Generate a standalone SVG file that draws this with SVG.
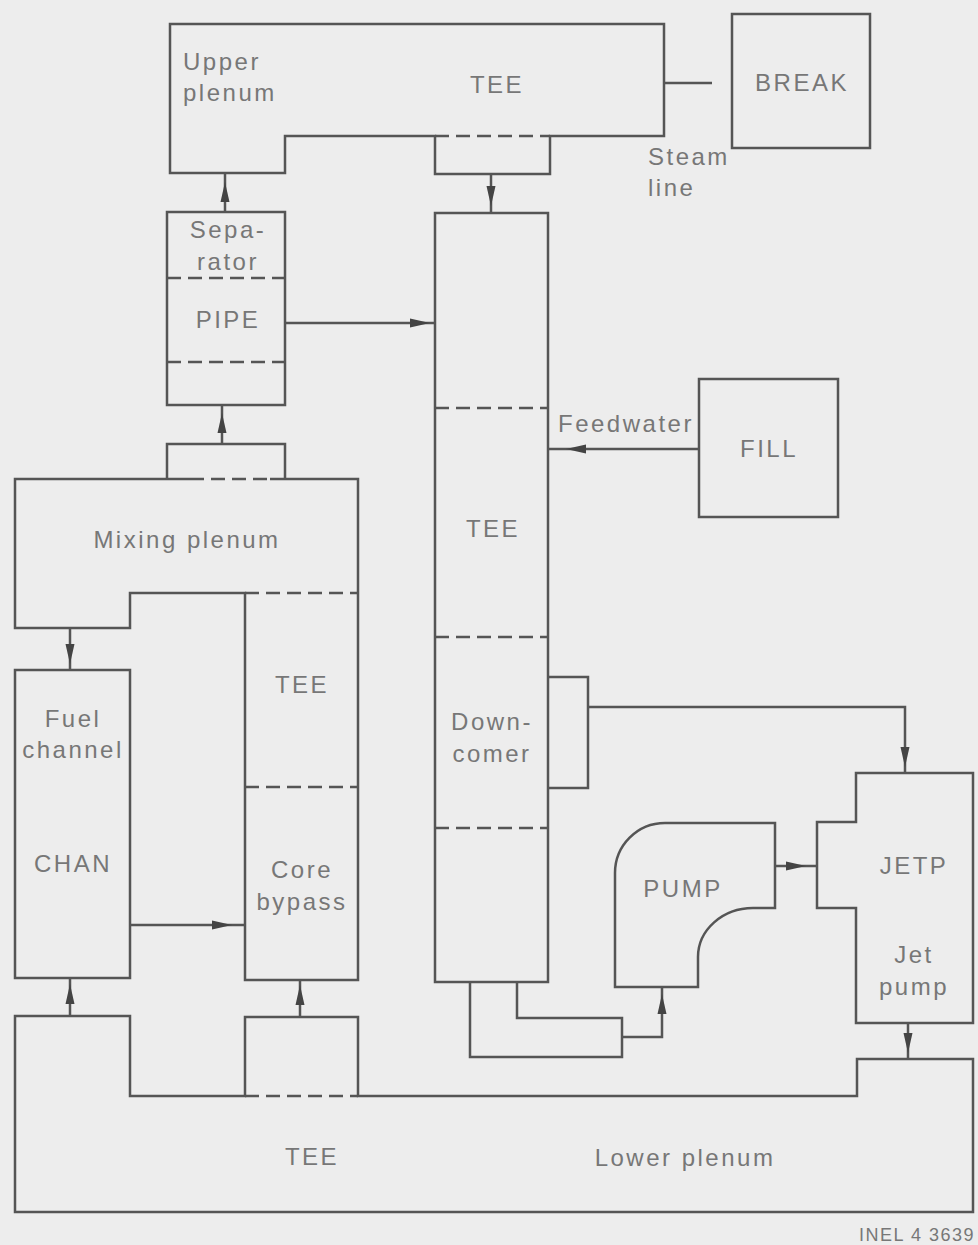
<svg xmlns="http://www.w3.org/2000/svg" width="978" height="1245" viewBox="0 0 978 1245">
<style>
.s{fill:none;stroke:#555;stroke-width:2.5;stroke-linejoin:miter}
.d{fill:none;stroke:#555;stroke-width:2.5;stroke-dasharray:14 7}
.t{font-family:"Liberation Sans",Arial,sans-serif;font-size:24px;fill:#777;letter-spacing:2.5px}
.c{text-anchor:middle}
.ah{fill:#444}
</style>
<defs>
<path id="ah" d="M0,0 L-20,-4.5 L-20,4.5 Z"/>
</defs>
<rect width="978" height="1245" fill="#ededed"/>

<g id="upper-plenum">
<path class="s" d="M170,24 H664 V136 H550 V174 H435 V136 H285 V173 H170 Z"/>
<line class="d" x1="435" y1="136" x2="550" y2="136"/>
<text class="t" x="183" y="70">Upper</text>
<text class="t" x="183" y="101">plenum</text>
<text class="t c" x="497" y="93">TEE</text>
</g>

<g id="break">
<rect class="s" x="732" y="14" width="138" height="134"/>
<text class="t c" x="802" y="91">BREAK</text>
</g>

<g id="steam-line-label">
<text class="t" x="648" y="165">Steam</text>
<text class="t" x="648" y="196">line</text>
</g>

<g id="separator-pipe">
<rect class="s" x="167" y="212" width="118" height="193"/>
<line class="d" x1="167" y1="278" x2="285" y2="278"/>
<line class="d" x1="167" y1="362" x2="285" y2="362"/>
<text class="t c" x="228" y="238">Sepa-</text>
<text class="t c" x="228" y="270">rator</text>
<text class="t c" x="228" y="328">PIPE</text>
</g>

<g id="mixing-plenum-tee">
<path class="s" d="M190,479 H15 V628 H130 V593 H245 V787"/>
<path class="s" d="M270,479 H358 V787"/>
<path class="s" d="M167,479 V444 H285 V479"/>
<line class="d" x1="190" y1="479" x2="270" y2="479"/>
<line class="d" x1="245" y1="593" x2="358" y2="593"/>
<text class="t c" x="187" y="548">Mixing plenum</text>
<text class="t c" x="302" y="693">TEE</text>
</g>

<g id="core-bypass">
<path class="s" d="M245,787 V980 H358 V787"/>
<line class="d" x1="245" y1="787" x2="358" y2="787"/>
<text class="t c" x="302" y="878">Core</text>
<text class="t c" x="302" y="910">bypass</text>
</g>

<g id="fuel-channel">
<rect class="s" x="15" y="670" width="115" height="308"/>
<text class="t c" x="73" y="727">Fuel</text>
<text class="t c" x="73" y="758">channel</text>
<text class="t c" x="73" y="872">CHAN</text>
</g>

<g id="downcomer">
<rect class="s" x="435" y="213" width="113" height="769"/>
<line class="d" x1="435" y1="408" x2="548" y2="408"/>
<line class="d" x1="435" y1="637" x2="548" y2="637"/>
<line class="d" x1="435" y1="828" x2="548" y2="828"/>
<path class="s" d="M548,677 H588 V788 H548"/>
<text class="t c" x="493" y="537">TEE</text>
<text class="t c" x="492" y="730">Down-</text>
<text class="t c" x="492" y="762">comer</text>
</g>

<g id="downcomer-outlet">
<path class="s" d="M470,982 V1057 H622 V1018 H517 V982"/>
</g>

<g id="fill">
<rect class="s" x="699" y="379" width="139" height="138"/>
<text class="t c" x="769" y="457">FILL</text>
</g>

<g id="feedwater-label">
<text class="t" x="558" y="432">Feedwater</text>
</g>

<g id="pump">
<path class="s" d="M665,823 H775 V908 H753 A55,49 0 0 0 698,957 V987 H615 V873 A50,50 0 0 1 665,823 Z"/>
<text class="t c" x="683" y="897">PUMP</text>
</g>

<g id="jetp">
<path class="s" d="M856,773 H973 V1023 H856 V908 H817 V822 H856 Z"/>
<text class="t c" x="914" y="874">JETP</text>
<text class="t c" x="914" y="963">Jet</text>
<text class="t c" x="914" y="995">pump</text>
</g>

<g id="lower-plenum">
<path class="s" d="M15,1212 V1016 H130 V1096 H245 V1017 H358 V1096 H857 V1059 H973 V1212 Z"/>
<line class="d" x1="245" y1="1096" x2="358" y2="1096"/>
<text class="t c" x="312" y="1165">TEE</text>
<text class="t c" x="685" y="1166">Lower plenum</text>
</g>

<g id="connectors">
<line class="s" x1="664" y1="83" x2="712" y2="83"/>
<line class="s" x1="225" y1="173" x2="225" y2="212"/>
<use href="#ah" class="ah" transform="translate(225,182) rotate(-90)"/>
<line class="s" x1="491" y1="174" x2="491" y2="213"/>
<use href="#ah" class="ah" transform="translate(491,206) rotate(90)"/>
<line class="s" x1="285" y1="323" x2="435" y2="323"/>
<use href="#ah" class="ah" transform="translate(430,323)"/>
<line class="s" x1="222" y1="405" x2="222" y2="444"/>
<use href="#ah" class="ah" transform="translate(222,413) rotate(-90)"/>
<line class="s" x1="548" y1="449" x2="699" y2="449"/>
<use href="#ah" class="ah" transform="translate(566,449) rotate(180)"/>
<line class="s" x1="70" y1="628" x2="70" y2="670"/>
<use href="#ah" class="ah" transform="translate(70,664) rotate(90)"/>
<line class="s" x1="130" y1="925" x2="245" y2="925"/>
<use href="#ah" class="ah" transform="translate(232,925)"/>
<line class="s" x1="70" y1="978" x2="70" y2="1016"/>
<use href="#ah" class="ah" transform="translate(70,984) rotate(-90)"/>
<line class="s" x1="300" y1="980" x2="300" y2="1017"/>
<use href="#ah" class="ah" transform="translate(300,985) rotate(-90)"/>
<path class="s" d="M588,707 H905 V773"/>
<use href="#ah" class="ah" transform="translate(905,767) rotate(90)"/>
<line class="s" x1="775" y1="866" x2="817" y2="866"/>
<use href="#ah" class="ah" transform="translate(806,866)"/>
<path class="s" d="M622,1037 H662 V987"/>
<use href="#ah" class="ah" transform="translate(662,994) rotate(-90)"/>
<line class="s" x1="908" y1="1023" x2="908" y2="1059"/>
<use href="#ah" class="ah" transform="translate(908,1053) rotate(90)"/>
</g>

<text x="975" y="1241" text-anchor="end" style="font-family:'Liberation Sans',Arial,sans-serif;font-size:18px;fill:#777;letter-spacing:1.5px">INEL 4 3639</text>
</svg>
